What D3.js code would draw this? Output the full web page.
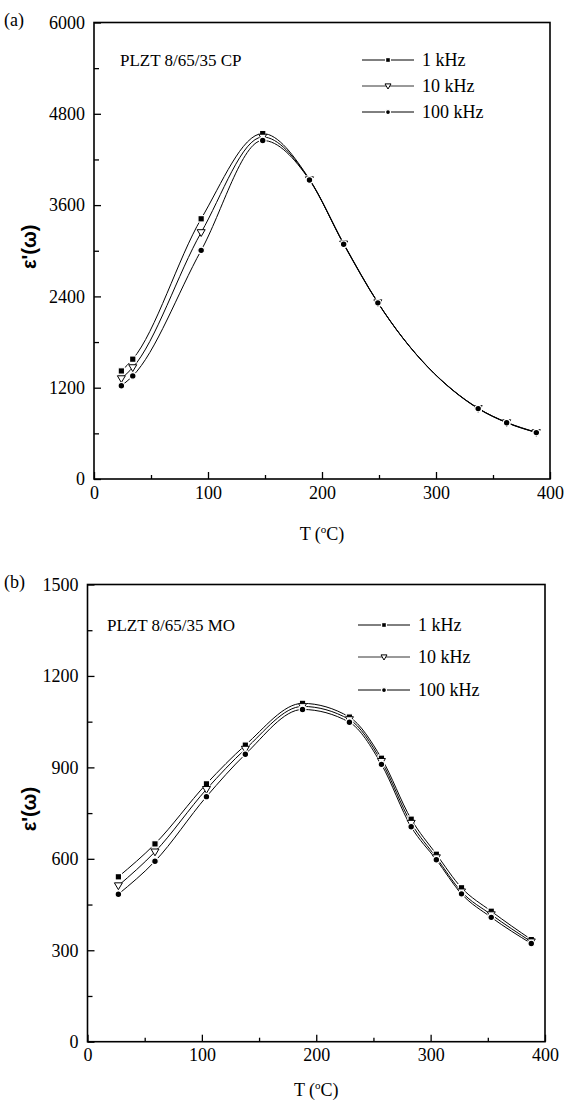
<!DOCTYPE html>
<html>
<head>
<meta charset="utf-8">
<script src="https://cdn.jsdelivr.net/npm/d3@7"></script>
<style>
  body { margin: 0; background: #fff; }
  .domain { stroke: none; }
  .tick line { stroke: #000; stroke-width: 1.3; }
</style>
</head>
<body>
<div class="chart"></div>
<script>
// panel (a) : PLZT 8/65/35 CP
var tempA = [24, 34, 94, 148, 189, 219, 249, 337, 362, 388];
var epsA1k = [1420, 1575, 3420, 4540, 3940, 3095, 2320, 930, 745, 615];
var epsA10k = [1320, 1465, 3240, 4495, 3935, 3090, 2318, 928, 742, 612];
var epsA100k = [1225, 1355, 3005, 4450, 3930, 3085, 2315, 925, 740, 610];

// panel (b) : PLZT 8/65/35 MO
var tempB = [27, 59, 104, 138, 188, 229, 257, 283, 305, 327, 353, 388];
var epsB1k = [541, 649, 846, 973, 1110, 1065, 930, 730, 615, 505, 428, 335];
var epsB10k = [512, 623, 828, 960, 1100, 1057, 920, 717, 604, 492, 417, 328];
var epsB100k = [484, 592, 804, 943, 1090, 1048, 910, 705, 597, 485, 408, 322];

var seriesNames = ['1 kHz', '10 kHz', '100 kHz'];
var xTicks = [0, 100, 200, 300, 400];
var yTicksA = [0, 1200, 2400, 3600, 4800, 6000];
var yTicksB = [0, 300, 600, 900, 1200, 1500];

var SERIF = '"Liberation Serif", "Times New Roman", serif';

var svg = d3.select('.chart')
	.append('svg')
	.attr('width', 567)
	.attr('height', 1108);

var panels = [
	{label: '(a)', title: 'PLZT 8/65/35 CP', temps: tempA, series: [epsA1k, epsA10k, epsA100k],
	 yMax: 6000, yTicks: yTicksA, yStep: 600,
	 left: 94, right: 550, top: 22.5, bottom: 479, xTitleY: 540,
	 titleX: 120, legendX: 362, legendY: [60, 86, 112]},
	{label: '(b)', title: 'PLZT 8/65/35 MO', temps: tempB, series: [epsB1k, epsB10k, epsB100k],
	 yMax: 1500, yTicks: yTicksB, yStep: 150,
	 left: 87.5, right: 545, top: 584.5, bottom: 1041.7, xTitleY: 1096,
	 titleX: 107, legendX: 358, legendY: [625, 657, 690]}
];

panels.forEach(function (p) {
	var g = svg.append('g');

	var xScale = d3.scaleLinear().domain([0, 400]).range([p.left, p.right]);
	var yScale = d3.scaleLinear().domain([0, p.yMax]).range([p.bottom, p.top]);

	// minor ticks
	g.append('g')
		.attr('transform', 'translate(0,' + p.bottom + ')')
		.call(d3.axisBottom(xScale).tickValues(d3.range(50, 400, 100)).tickSize(-4).tickFormat(''));
	g.append('g')
		.attr('transform', 'translate(' + p.left + ',0)')
		.call(d3.axisLeft(yScale).tickValues(d3.range(p.yStep, p.yMax, p.yStep * 2)).tickSize(-5).tickFormat(''));

	// major ticks
	var xAxis = g.append('g')
		.attr('transform', 'translate(0,' + p.bottom + ')')
		.call(d3.axisBottom(xScale).tickValues(xTicks).tickSizeInner(-7).tickSizeOuter(0)
			.tickPadding(6).tickFormat(d3.format('d')));
	xAxis.selectAll('text').style('font-family', SERIF).style('font-size', '18px').attr('dy', '0.75em');

	var yAxis = g.append('g')
		.attr('transform', 'translate(' + p.left + ',0)')
		.call(d3.axisLeft(yScale).tickValues(p.yTicks).tickSizeInner(-7).tickSizeOuter(0)
			.tickPadding(9).tickFormat(d3.format('d')));
	yAxis.selectAll('text').style('font-family', SERIF).style('font-size', '18px');

	// frame
	g.append('rect')
		.attr('x', p.left).attr('y', p.top)
		.attr('width', p.right - p.left).attr('height', p.bottom - p.top)
		.style('fill', 'none').style('stroke', '#000').style('stroke-width', 1.6);

	// curves
	var line = d3.line()
		.x(function (d) { return xScale(d[0]); })
		.y(function (d) { return yScale(d[1]); })
		.curve(d3.curveMonotoneX);

	p.series.forEach(function (vals) {
		var pts = p.temps.map(function (t, i) { return [t, vals[i]]; });
		g.append('path')
			.attr('d', line(pts))
			.style('fill', 'none').style('stroke', '#000').style('stroke-width', 1);
	});

	// markers (drawn last so they break the lines a little)
	p.series.forEach(function (vals, s) {
		p.temps.forEach(function (t, i) {
			drawMarker(g, s, xScale(t), yScale(vals[i]), 1);
		});
	});

	// panel label + sample name
	g.append('text').attr('x', 4).attr('y', p.top - 2).attr('dy', '0.33em')
		.style('font-family', SERIF).style('font-size', '18px').text(p.label);
	g.append('text').attr('x', p.titleX).attr('y', p.legendY[0]).attr('dy', '0.33em')
		.style('font-family', SERIF).style('font-size', '17px').text(p.title);

	// legend
	seriesNames.forEach(function (name, s) {
		var y = p.legendY[s];
		g.append('line')
			.attr('x1', p.legendX).attr('x2', p.legendX + 52)
			.attr('y1', y).attr('y2', y)
			.style('stroke', '#000').style('stroke-width', s === 1 ? 0.8 : 1);
		drawMarker(g, s, p.legendX + 26, y, 0.75);
		g.append('text').attr('x', p.legendX + 60).attr('y', y).attr('dy', '0.33em')
			.style('font-family', SERIF).style('font-size', '18px').text(name);
	});

	// axis titles
	var xt = g.append('text')
		.attr('x', (p.left + p.right) / 2).attr('y', p.xTitleY)
		.attr('text-anchor', 'middle')
		.style('font-family', SERIF).style('font-size', '18px');
	xt.append('tspan').text('T (');
	xt.append('tspan').attr('dy', -7).style('font-size', '11px').text('o');
	xt.append('tspan').attr('dy', 7).text('C)');

	g.append('text')
		.attr('transform', 'translate(36,' + ((p.top + p.bottom) / 2 - 4) + ') rotate(-90)')
		.attr('text-anchor', 'middle')
		.style('font-family', '"Liberation Sans", Arial, sans-serif')
		.style('font-weight', 'bold').style('font-size', '20px')
		.text("\u03B5'(\u03C9)");
});

function drawMarker(g, s, x, y, k) {
	if (s === 0) {
		g.append('rect')
			.attr('x', x - 3.2 * k).attr('y', y - 3.2 * k)
			.attr('width', 6.4 * k).attr('height', 6.4 * k)
			.style('fill', '#000').style('stroke', '#fff').style('stroke-width', 1.2);
	} else if (s === 1) {
		var r = 4 * k;
		g.append('path')
			.attr('d', 'M' + (x - r) + ',' + (y - r * 0.7) + 'L' + (x + r) + ',' + (y - r * 0.7) + 'L' + x + ',' + (y + r) + 'Z')
			.style('fill', '#fff').style('stroke', '#000').style('stroke-width', 1);
	} else {
		g.append('circle')
			.attr('cx', x).attr('cy', y).attr('r', 3.3 * k)
			.style('fill', '#000').style('stroke', '#fff').style('stroke-width', 1.2);
	}
}
</script>
</body>
</html>
